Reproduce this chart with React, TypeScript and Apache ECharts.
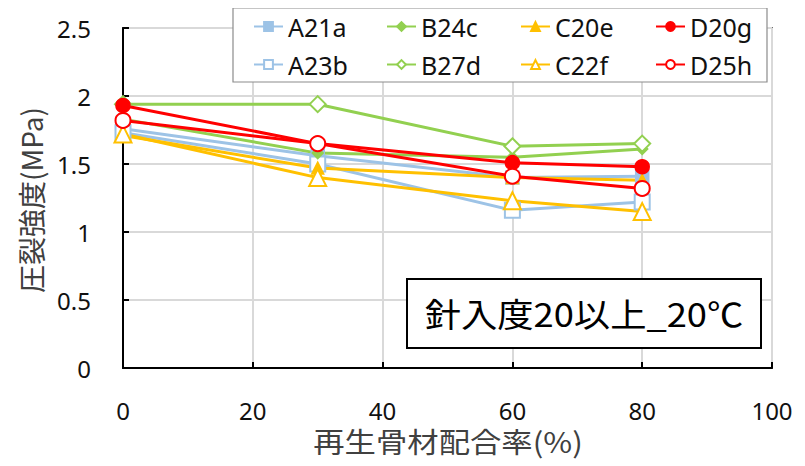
import React, { useEffect, useRef } from "react";
import * as echarts from "echarts";

// Recycled-aggregate ratio (%) at which each mix was tested
const mixRatio = [0, 30, 60, 80];

// Indirect tensile strength (MPa) per mix
const A21a = [1.76, 1.56, 1.4, 1.41];
const A23b = [1.73, 1.5, 1.16, 1.22];
const B24c = [1.83, 1.58, 1.55, 1.61];
const B27d = [1.94, 1.94, 1.63, 1.65];
const C20e = [1.71, 1.47, 1.4, 1.38];
const C22f = [1.72, 1.4, 1.23, 1.15];
const D20g = [1.93, 1.65, 1.51, 1.48];
const D25h = [1.82, 1.65, 1.41, 1.32];

// drawing order (later series sit on top)
const seriesNames = ["A21a", "A23b", "B24c", "B27d", "C20e", "C22f", "D20g", "D25h"];
const seriesValues = [A21a, A23b, B24c, B27d, C20e, C22f, D20g, D25h];

// Axis ranges
const xMin = 0;
const xMax = 100;
const xStep = 20;
const yMin = 0;
const yMax = 2.5;
const yStep = 0.5;

const xTitle = "再生骨材配合率(%)";
const yTitle = "圧裂強度(MPa)";
const noteText = "針入度20以上_20℃";

const BLUE = "#9DC3E6";
const GREEN = "#92D050";
const YELLOW = "#FFC000";
const RED = "#FF0000";

const styles: Record<string, { color: string; symbol: string; size: number }> = {
  A21a: { color: BLUE, symbol: "rect", size: 13 },
  B24c: { color: GREEN, symbol: "diamond", size: 11 },
  C20e: { color: YELLOW, symbol: "triangle", size: 12 },
  D20g: { color: RED, symbol: "circle", size: 14 },
  A23b: { color: BLUE, symbol: "emptyRect", size: 15 },
  B27d: { color: GREEN, symbol: "emptyDiamond", size: 16 },
  C22f: { color: YELLOW, symbol: "emptyTriangle", size: 17 },
  D25h: { color: RED, symbol: "emptyCircle", size: 15 },
};

const legendColumns = [
  ["A21a", "A23b"],
  ["B24c", "B27d"],
  ["C20e", "C22f"],
  ["D20g", "D25h"],
];
const legendLefts = [253, 386, 520, 655];

const LATIN = "'Noto Sans', sans-serif";
const CJK = "'Noto Sans CJK JP', 'Noto Sans', sans-serif";

export default function App() {
  const ref = useRef<HTMLDivElement>(null);

  useEffect(() => {
    if (!ref.current) return;
    const chart = echarts.init(ref.current, null, { renderer: "svg" });

    const series = seriesNames.map((name, i) => {
      const s = styles[name];
      return {
        name,
        type: "line",
        data: mixRatio.map((x, j) => [x, seriesValues[i][j]]),
        symbol: s.symbol,
        symbolSize: s.size,
        showAllSymbol: true,
        lineStyle: { color: s.color, width: 3 },
        itemStyle: { color: s.color, borderColor: s.color, borderWidth: 1.5 },
        emphasis: { disabled: true },
        z: 2,
      };
    });

    const option = {
      animation: false,
      backgroundColor: "#ffffff",
      grid: {
        left: 123,
        right: 33,
        top: 28,
        bottom: 98,
        show: true,
        borderColor: "#000",
        borderWidth: 1.5,
        backgroundColor: "transparent",
      },
      xAxis: {
        type: "value",
        min: xMin,
        max: xMax,
        interval: xStep,
        axisLine: { show: true, lineStyle: { color: "#000", width: 2 } },
        axisTick: { show: true, inside: true, length: 6, lineStyle: { color: "#000", width: 2 } },
        axisLabel: { fontSize: 24, fontFamily: LATIN, color: "#111", margin: 30 },
        splitLine: { show: true, lineStyle: { color: "#d9d9d9", width: 2 } },
      },
      yAxis: {
        type: "value",
        min: yMin,
        max: yMax,
        interval: yStep,
        axisLine: { show: true, lineStyle: { color: "#000", width: 2 } },
        axisTick: { show: true, inside: true, length: 6, lineStyle: { color: "#000", width: 2 } },
        axisLabel: { fontSize: 24, fontFamily: LATIN, color: "#111", margin: 32 },
        splitLine: { show: true, lineStyle: { color: "#d9d9d9", width: 2 } },
      },
      legend: legendColumns.map((col, i) => ({
        data: col,
        orient: "vertical",
        left: legendLefts[i],
        top: 14,
        padding: 0,
        itemWidth: 29,
        itemHeight: 11,
        itemGap: 13,
        selectedMode: false,
        lineStyle: { width: 2 },
        textStyle: { fontSize: 25, fontFamily: LATIN, color: "#111", lineHeight: 25 },
        z: 6,
      })),
      graphic: [
        // legend frame
        {
          type: "rect",
          z: 4,
          shape: { x: 233, y: 8, width: 534, height: 74 },
          style: { fill: "#fff", stroke: "#8c8c8c", lineWidth: 1.2 },
        },
        // condition note
        {
          type: "rect",
          z: 4,
          shape: { x: 407, y: 279, width: 354, height: 69 },
          style: { fill: "#fff", stroke: "#000", lineWidth: 2 },
        },
        {
          type: "text",
          z: 5,
          x: 584,
          y: 313,
          scaleX: 1.1,
          style: {
            text: noteText,
            fontSize: 33,
            fontFamily: CJK,
            fill: "#000",
            textAlign: "center",
            textVerticalAlign: "middle",
          },
        },
        // axis titles
        {
          type: "text",
          z: 5,
          x: 448,
          y: 441,
          scaleX: 1.12,
          style: {
            text: xTitle,
            fontSize: 28,
            fontFamily: CJK,
            fill: "#404040",
            textAlign: "center",
            textVerticalAlign: "middle",
          },
        },
        {
          type: "text",
          z: 5,
          x: 31,
          y: 200,
          rotation: Math.PI / 2,
          style: {
            text: yTitle,
            fontSize: 28,
            fontFamily: CJK,
            fill: "#404040",
            textAlign: "center",
            textVerticalAlign: "middle",
          },
        },
      ],
      series,
    };

    chart.setOption(option as any);
    return () => chart.dispose();
  }, []);

  return <div ref={ref} style={{ width: 805, height: 466, marginLeft: -8, marginTop: -8 }} />;
}
